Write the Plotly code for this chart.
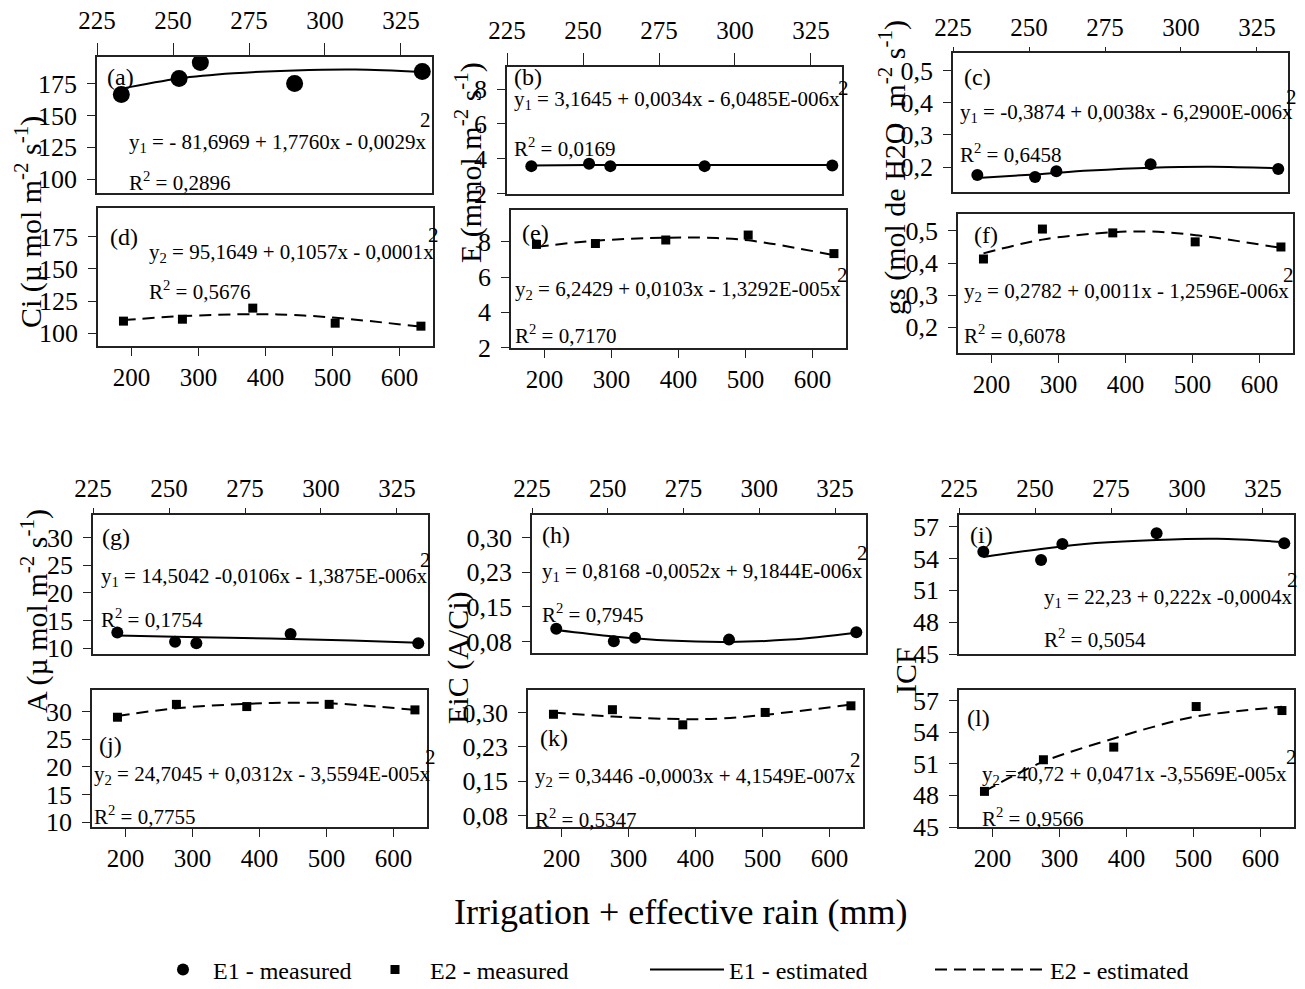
import plotly.graph_objects as go

PAGE_W, PAGE_H = 1305, 989
OFF = 8  # default page margin of the html body
W, H = PAGE_W - OFF, PAGE_H - OFF
FONT = "Liberation Serif"

# ---------------- data ----------------
E1_x = [233, 252, 259, 290, 332]
E2_x = [188, 276, 381, 504, 632]
fit1_x = [233, 252, 270, 290, 310, 332]
fit2_x = [188, 276, 381, 440, 505, 632]

Ci_E1 = [166.4, 179.0, 191.4, 175.0, 184.5]
Ci_E2 = [109.4, 110.9, 119.5, 107.8, 105.5]
Ci_fit1 = [171.0, 179.0, 183.0, 185.3, 186.0, 184.0]
Ci_fit2 = [110.2, 113.3, 114.8, 114.2, 112.0, 105.1]

E_E1 = [3.58, 3.71, 3.58, 3.58, 3.62]
E_E2 = [7.85, 7.90, 8.10, 8.38, 7.33]
E_fit1 = [3.62, 3.64, 3.65, 3.65, 3.65, 3.64]
E_fit2 = [7.71, 8.06, 8.23, 8.23, 8.08, 7.24]

gs_E1 = [0.175, 0.169, 0.187, 0.209, 0.194]
gs_E2 = [0.4125, 0.506, 0.494, 0.466, 0.450]
gs_fit1 = [0.166, 0.177, 0.189, 0.198, 0.201, 0.196]
gs_fit2 = [0.430, 0.473, 0.496, 0.498, 0.487, 0.447]

A_E1 = [12.85, 11.2, 10.9, 12.6, 10.9]
A_E2 = [28.97, 31.3, 30.9, 31.3, 30.3]
A_fit1 = [12.3, 12.1, 11.9, 11.7, 11.4, 11.0]
A_fit2 = [29.2, 30.6, 31.4, 31.6, 31.5, 30.3]

EiC_E1 = [0.1026, 0.0757, 0.083, 0.079, 0.095]
EiC_E2 = [0.296, 0.306, 0.273, 0.300, 0.3145]
EiC_fit1 = [0.100, 0.086, 0.077, 0.074, 0.079, 0.094]
EiC_fit2 = [0.300, 0.291, 0.2855, 0.287, 0.295, 0.317]

ICF_E1 = [54.64, 53.86, 55.37, 56.37, 55.43]
ICF_E2 = [48.38, 51.38, 52.58, 56.43, 56.05]
ICF_fit1 = [54.15, 54.9, 55.45, 55.75, 55.85, 55.55]
ICF_fit2 = [48.4, 51.2, 53.4, 54.5, 55.5, 56.4]

top_ticks = [225, 250, 275, 300, 325]
bottom_ticks = [200, 300, 400, 500, 600]

Ci_ticks = [100, 125, 150, 175]
Ci_labels = ["100", "125", "150", "175"]
E_ticks = [2, 4, 6, 8]
E_labels = ["2", "4", "6", "8"]
gs_ticks = [0.2, 0.3, 0.4, 0.5]
gs_labels = ["0,2", "0,3", "0,4", "0,5"]
A_ticks = [10, 15, 20, 25, 30]
A_labels = ["10", "15", "20", "25", "30"]
EiC_ticks = [0.075, 0.15, 0.225, 0.30]
EiC_labels = ["0,08", "0,15", "0,23", "0,30"]
ICF_ticks = [45, 48, 51, 54, 57]
ICF_labels = ["45", "48", "51", "54", "57"]

eq_texts = {
    "a": "y<sub>1</sub> = - 81,6969 + 1,7760x - 0,0029x",
    "b": "y<sub>1</sub> = 3,1645 + 0,0034x - 6,0485E-006x",
    "c": "y<sub>1</sub> = -0,3874 + 0,0038x - 6,2900E-006x",
    "d": "y<sub>2</sub> = 95,1649 + 0,1057x - 0,0001x",
    "e": "y<sub>2</sub> = 6,2429 + 0,0103x - 1,3292E-005x",
    "f": "y<sub>2</sub> = 0,2782 + 0,0011x - 1,2596E-006x",
    "g": "y<sub>1</sub> = 14,5042 -0,0106x - 1,3875E-006x",
    "h": "y<sub>1</sub> = 0,8168 -0,0052x + 9,1844E-006x",
    "i": "y<sub>1</sub> = 22,23 + 0,222x -0,0004x",
    "j": "y<sub>2</sub> = 24,7045 + 0,0312x - 3,5594E-005x",
    "k": "y<sub>2</sub> = 0,3446 -0,0003x + 4,1549E-007x",
    "l": "y<sub>2</sub> =40,72 + 0,0471x -3,5569E-005x",
}
r2_texts = {
    "a": "0,2896", "b": "0,0169", "c": "0,6458", "d": "0,5676",
    "e": "0,7170", "f": "0,6078", "g": "0,1754", "h": "0,7945",
    "i": "0,5054", "j": "0,7755", "k": "0,5347", "l": "0,9566",
}

# ---------------- layout of panels (page pixels) ----------------
# key, group, measured, fit, box(l,t,r,b), y range, y ticks, y labels, marker size, x tick length
panels = [
    ("a", 1, Ci_E1, Ci_fit1, (97, 57, 432, 193), [89.2, 195.8], Ci_ticks, Ci_labels, 17, 12),
    ("b", 1, E_E1, E_fit1, (507, 67, 842, 194), [1.98, 9.27], E_ticks, E_labels, 12, 12),
    ("c", 1, gs_E1, gs_fit1, (953, 53, 1288, 192), [0.122, 0.556], gs_ticks, gs_labels, 12, 4),
    ("d", 2, Ci_E2, Ci_fit2, (98, 208, 433, 346), [90.1, 197.2], Ci_ticks, Ci_labels, 9, 8),
    ("e", 2, E_E2, E_fit2, (511, 210, 846, 348), [1.98, 9.8], E_ticks, E_labels, 9, 8),
    ("f", 2, gs_E2, gs_fit2, (958, 214, 1293, 353), [0.119, 0.553], gs_ticks, gs_labels, 9, 8),
    ("g", 1, A_E1, A_fit1, (93, 515, 428, 654), [8.97, 34.1], A_ticks, A_labels, 12, 5),
    ("h", 1, EiC_E1, EiC_fit1, (532, 515, 866, 653), [0.05, 0.349], EiC_ticks, EiC_labels, 12, 5),
    ("i", 1, ICF_E1, ICF_fit1, (959, 515, 1294, 654), [45.0, 58.1], ICF_ticks, ICF_labels, 12, 5),
    ("j", 2, A_E2, A_fit2, (92, 690, 427, 827), [9.1, 33.9], A_ticks, A_labels, 9, 8),
    ("k", 2, EiC_E2, EiC_fit2, (528, 690, 863, 827), [0.05, 0.349], EiC_ticks, EiC_labels, 9, 8),
    ("l", 2, ICF_E2, ICF_fit2, (959, 690, 1294, 827), [45.0, 58.0], ICF_ticks, ICF_labels, 9, 8),
]

# text positions (page pixels): label, equation, superscript 2, R2
text_pos = {
    "a": ((105, 77), (127, 143), (425, 120), (127, 181)),
    "b": ((512, 77), (512, 100), (843, 88), (512, 147)),
    "c": ((962, 77), (958, 113), (1291, 97), (958, 153)),
    "d": ((108, 237), (147, 253), (433, 235), (147, 290)),
    "e": ((520, 233), (513, 290), (842, 275), (513, 335)),
    "f": ((972, 235), (962, 292), (1288, 275), (962, 335)),
    "g": ((100, 537), (99, 577), (425, 560), (99, 618)),
    "h": ((540, 535), (540, 572), (862, 553), (540, 613)),
    "i": ((968, 535), (1042, 598), (1292, 580), (1042, 638)),
    "j": ((97, 745), (92, 775), (430, 757), (92, 815)),
    "k": ((538, 738), (533, 777), (855, 760), (533, 818)),
    "l": ((965, 718), (980, 775), (1291, 757), (980, 817)),
}


def px(x, y):
    return (x - OFF) / W, 1 - (y - OFF) / H


fig = go.Figure()
layout = dict(
    template="none",
    width=W, height=H, margin=dict(l=0, r=0, t=0, b=0, pad=0, autoexpand=False),
    paper_bgcolor="white", plot_bgcolor="white",
    font=dict(family=FONT, size=24, color="black"),
    showlegend=True,
)
annotations = []

AX_COLOR = "#222222"
legend_of = {"E1 - measured": "legend", "E2 - measured": "legend2",
             "E1 - estimated": "legend3", "E2 - estimated": "legend4"}

for idx, (key, grp, meas, fit, box, yr, yt, yl, msize, tlen) in enumerate(panels, start=1):
    sfx = "" if idx == 1 else str(idx)
    xa, ya = "x" + sfx, "y" + sfx
    l, t, r, b = box
    x0, y1 = px(l, t)
    x1, y0 = px(r, b)
    if grp == 1:
        xs, fx, xrange, xticks, side = E1_x, fit1_x, [225, 335.2], top_ticks, "top"
        sym, dash, name_m, name_f = "circle", "solid", "E1 - measured", "E1 - estimated"
        tstand = 4 if tlen > 6 else 1
    else:
        xs, fx, xrange, xticks, side = E2_x, fit2_x, [150, 650], bottom_ticks, "bottom"
        sym, dash, name_m, name_f = "square", "12px,7px", "E2 - measured", "E2 - estimated"
        tstand = 0
    show = key in ("b", "d")
    fig.add_trace(go.Scatter(
        x=fx, y=fit, xaxis=xa, yaxis=ya, mode="lines",
        line=dict(color="black", width=2, dash=dash, shape="spline"),
        name=name_f, showlegend=show, legend=legend_of[name_f],
    ))
    fig.add_trace(go.Scatter(
        x=xs, y=meas, xaxis=xa, yaxis=ya, mode="markers",
        marker=dict(symbol=sym, size=msize, color="black"),
        name=name_m, showlegend=show, legend=legend_of[name_m],
    ))
    layout["xaxis" + sfx] = dict(
        domain=[x0, x1], anchor=ya, side=side, range=xrange, automargin=False,
        tickvals=xticks, ticktext=[str(v) for v in xticks], ticklabelstandoff=tstand,
        ticks="outside", ticklen=tlen, tickwidth=1.3, tickcolor=AX_COLOR,
        showline=True, linecolor=AX_COLOR, linewidth=1.5, mirror=True,
        showgrid=False, zeroline=False,
        tickfont=dict(family=FONT, size=25, color="black"),
    )
    layout["yaxis" + sfx] = dict(
        domain=[y0, y1], anchor=xa, range=yr, automargin=False,
        tickvals=yt, ticktext=yl, ticklabelstandoff=5,
        ticks="outside", ticklen=8, tickwidth=1.3, tickcolor=AX_COLOR,
        showline=True, linecolor=AX_COLOR, linewidth=1.5, mirror=True,
        showgrid=False, zeroline=False,
        tickfont=dict(family=FONT, size=26, color="black"),
    )
    lab, eq, sup, r2 = text_pos[key]
    for text, pos, anchor, size in (
        ("(" + key + ")", lab, "left", 24),
        (eq_texts[key], eq, "left", 21),
        ("2", sup, "center", 21),
        ("R<sup>2</sup> = " + r2_texts[key], r2, "left", 21),
    ):
        ax_, ay_ = px(*pos)
        annotations.append(dict(
            text=text, x=ax_, y=ay_, xref="paper", yref="paper",
            xanchor=anchor, yanchor="middle", showarrow=False,
            font=dict(family=FONT, size=size, color="black"),
        ))

# axis titles
y_titles = [
    ("Ci (µ mol m<sup>-2</sup> s<sup>-1</sup>)", (28, 222)),
    ("E (mmol m<sup>-2</sup> s<sup>-1</sup>)", (468, 163)),
    ("gs (mol de H2O  m<sup>-2</sup> s<sup>-1</sup>)", (892, 168)),
    ("A (µ mol m<sup>-2</sup> s<sup>-1</sup>)", (34, 611)),
    ("EiC (A/Ci)", (458, 657)),
    ("ICF", (905, 671)),
]
for text, pos in y_titles:
    ax_, ay_ = px(*pos)
    annotations.append(dict(
        text=text, x=ax_, y=ay_, xref="paper", yref="paper", textangle=-90,
        xanchor="center", yanchor="middle", showarrow=False,
        font=dict(family=FONT, size=30, color="black"),
    ))

ax_, ay_ = px(680, 912)
annotations.append(dict(
    text="Irrigation + effective rain (mm)", x=ax_, y=ay_, xref="paper", yref="paper",
    xanchor="center", yanchor="middle", showarrow=False,
    font=dict(family=FONT, size=36, color="black"),
))
layout["annotations"] = annotations

# one legend per entry, placed where the reference shows them
legend_cfg = {"legend": (153, 50), "legend2": (360, 60),
              "legend3": (645, 74), "legend4": (930, 110)}
for lg, (lxp, iw) in legend_cfg.items():
    lx, ly = px(lxp, 970)
    layout[lg] = dict(
        orientation="h", x=lx, y=ly, xanchor="left", yanchor="middle",
        font=dict(family=FONT, size=24, color="black"),
        itemwidth=iw, bgcolor="rgba(0,0,0,0)", borderwidth=0,
    )

fig.update_layout(**layout)
fig.write_html("out.html")
